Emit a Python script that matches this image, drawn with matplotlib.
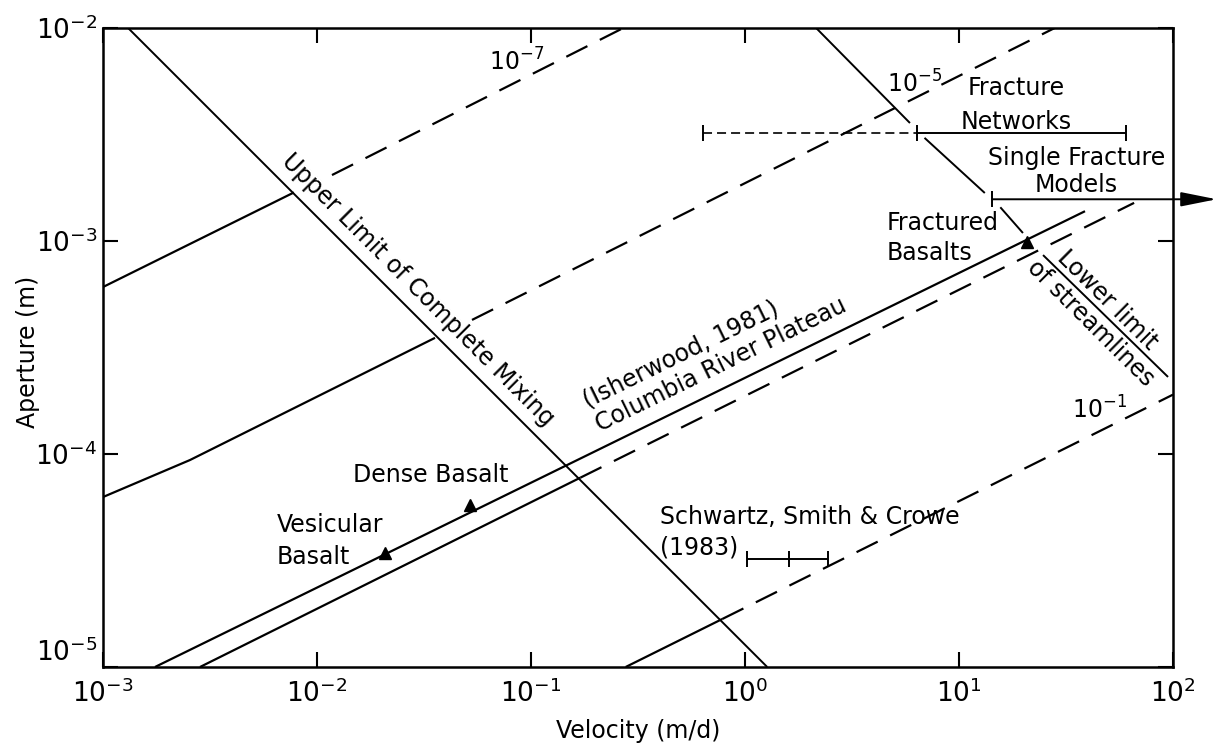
import numpy as np
import matplotlib
matplotlib.use('Agg')
import matplotlib.pyplot as plt
from matplotlib.ticker import NullLocator, FixedLocator

plt.rcParams['font.family'] = ['DejaVu Sans']
plt.rcParams['mathtext.fontset'] = 'dejavusans'
plt.rcParams['lines.scale_dashes'] = False

# ---------------- data ----------------
x_ticks = [1e-3, 1e-2, 1e-1, 1e0, 1e1, 1e2]
x_tick_labels = [r'$10^{-3}$', r'$10^{-2}$', r'$10^{-1}$', r'$10^{0}$', r'$10^{1}$', r'$10^{2}$']
y_ticks = [1e-5, 1e-4, 1e-3, 1e-2]
y_tick_labels = [r'$10^{-5}$', r'$10^{-4}$', r'$10^{-3}$', r'$10^{-2}$']

# Upper limit of complete mixing
upper_limit_x = [1.31e-3, 1.27]
upper_limit_y = [1e-2, 1e-5]

# Lower limit of streamlines (broken at the bars / basalt point)
lower_limit_x = [[2.15, 5.9], [6.9, 13.2], [15.6, 19.9], [24.7, 94.8]]
lower_limit_y = [[1.0e-2, 3.58e-3], [3.05e-3, 1.68e-3], [1.44e-3, 1.09e-3], [8.59e-4, 2.30e-4]]

# 10^-7 curve
c7_solid_x = [1e-3, 7.8e-3]
c7_solid_y = [6.08e-4, 1.69e-3]
c7_dash_x = [1.175e-2, 0.27]
c7_dash_y = [2.04e-3, 1e-2]

# 10^-5 curve
c5_solid_x = [1e-3, 2.55e-3, 3.56e-2]
c5_solid_y = [6.28e-5, 9.37e-5, 3.51e-4]
c5_dash_x = [5.30e-2, 28.0]
c5_dash_y = [4.26e-4, 1e-2]

# Columbia River Plateau (Isherwood, 1981)
crp_x = [1.75e-3, 38.8]
crp_y = [1e-5, 1.38e-3]

# 10^-3 curve
c3_solid_x = [2.84e-3, 0.170]
c3_solid_y = [1e-5, 7.74e-5]
c3_dash_x = [0.170, 65.8]
c3_dash_y = [7.74e-5, 1.51e-3]

# 10^-1 curve
c1_solid_x = [0.277, 0.783]
c1_solid_y = [1e-5, 1.68e-5]
c1_dash_x = [0.783, 100.0]
c1_dash_y = [1.68e-5, 1.9e-4]

# basalt points
basalt_vel = [0.0208, 0.0519, 20.8]
basalt_ap = [3.43e-5, 5.77e-5, 9.9e-4]

# range bars
fn_y = 3.21e-3
fn_dash_x = [0.637, 6.37]
fn_solid_x = [6.37, 60.3]
sf_y = 1.57e-3
sf_x = [14.3, 160.0]
scw_y = 3.21e-5
scw_x = [1.02, 1.61, 2.44]

# ---------------- figure ----------------
W, H = 1218, 751
fig = plt.figure(figsize=(W / 100, H / 100), dpi=100)
ax = fig.add_axes([103 / W, 1 - 667 / H, 1070 / W, 639 / H])
ax.set_xscale('log')
ax.set_yscale('log')
ax.set_xlim(1e-3, 1e2)
ax.set_ylim(1e-5, 1e-2)

FS = 17
LW = 1.6
LDASH = (17, 10)

ax.xaxis.set_major_locator(FixedLocator(x_ticks))
ax.yaxis.set_major_locator(FixedLocator(y_ticks))
ax.xaxis.set_minor_locator(NullLocator())
ax.yaxis.set_minor_locator(NullLocator())
ax.set_xticklabels(x_tick_labels)
ax.set_yticklabels(y_tick_labels)
ax.tick_params(which='major', direction='in', length=11, width=1.5,
               top=True, right=True, labelsize=19)
ax.tick_params(axis='x', pad=9)
ax.tick_params(axis='y', pad=4)
ax.get_yticklabels()[0].set_verticalalignment('bottom')
for s in ax.spines.values():
    s.set_linewidth(1.8)

k = dict(color='black', solid_capstyle='butt', dash_capstyle='butt')

ax.plot(upper_limit_x, upper_limit_y, lw=1.4, **k)
for xs, ys in zip(lower_limit_x, lower_limit_y):
    ax.plot(xs, ys, lw=1.4, **k)

ax.plot(c7_solid_x, c7_solid_y, lw=LW, **k)
ax.plot(c7_dash_x, c7_dash_y, lw=LW, dashes=LDASH, **k)
ax.plot(c5_solid_x, c5_solid_y, lw=LW, **k)
ax.plot(c5_dash_x, c5_dash_y, lw=LW, dashes=LDASH, **k)
ax.plot(crp_x, crp_y, lw=LW, **k)
ax.plot(c3_solid_x, c3_solid_y, lw=LW, **k)
ax.plot(c3_dash_x, c3_dash_y, lw=LW, dashes=LDASH, **k)
ax.plot(c1_solid_x, c1_solid_y, lw=LW, **k)
ax.plot(c1_dash_x, c1_dash_y, lw=LW, dashes=LDASH, **k)

ax.plot(basalt_vel, basalt_ap, ls='none', marker='^', ms=8, color='black')

# range bars
ax.plot(fn_dash_x, [fn_y] * 2, lw=1.2, dashes=(6.5, 3.6), **k)
ax.plot(fn_solid_x, [fn_y] * 2, lw=1.4, **k)
ax.plot([fn_dash_x[0], fn_solid_x[0], fn_solid_x[1]], [fn_y] * 3, ls='none',
        marker='|', ms=11, mew=1.4, color='black')
ax.plot([sf_x[0]], [sf_y], ls='none', marker='|', ms=11, mew=1.4, color='black')
ann = ax.annotate('', xy=(sf_x[1], sf_y), xytext=(sf_x[0], sf_y),
                  arrowprops=dict(arrowstyle='-|>,head_length=1.1,head_width=0.22',
                                  mutation_scale=20, lw=1.4, color='black',
                                  shrinkA=0, shrinkB=0),
                  annotation_clip=False)
ann.arrow_patch.set_clip_on(False)
ax.plot([scw_x[0], scw_x[-1]], [scw_y] * 2, lw=1.4, **k)
ax.plot(scw_x, [scw_y] * 3, ls='none', marker='|', ms=11, mew=1.4, color='black')


def screen_angle(xs, ys):
    p = ax.transData.transform(np.column_stack([xs, ys]))
    return np.degrees(np.arctan2(p[-1, 1] - p[0, 1], p[-1, 0] - p[0, 0]))


a_ul = screen_angle(upper_limit_x, upper_limit_y)
a_ll = screen_angle([lower_limit_x[0][0], lower_limit_x[-1][-1]],
                    [lower_limit_y[0][0], lower_limit_y[-1][-1]])
a_crp = screen_angle(crp_x, crp_y)

rt = dict(rotation_mode='anchor', fontsize=FS)
ax.text(0.02965, 5.89e-4, 'Upper Limit of Complete Mixing', rotation=a_ul,
        ha='center', va='center', **rt)
ax.text(0.1845, 1.644e-4, '(Isherwood, 1981)', rotation=a_crp,
        ha='left', va='baseline', **rt)
ax.text(0.210, 1.268e-4, 'Columbia River Plateau', rotation=a_crp,
        ha='left', va='baseline', **rt)
ax.text(49.2, 5.28e-4, 'Lower limit', rotation=a_ll, ha='center', va='center', **rt)
ax.text(41.4, 4.12e-4, 'of streamlines', rotation=a_ll, ha='center', va='center', **rt)

ax.text(0.0861, 6.92e-3, r'$10^{-7}$', ha='center', va='center', fontsize=FS)
ax.text(6.22, 5.46e-3, r'$10^{-5}$', ha='center', va='center', fontsize=FS)
ax.text(45.6, 1.61e-4, r'$10^{-1}$', ha='center', va='center', fontsize=FS)

ax.text(18.5, 5.23e-3, 'Fracture', ha='center', va='center', fontsize=FS)
ax.text(18.5, 3.62e-3, 'Networks', ha='center', va='center', fontsize=FS)
ax.text(35.6, 2.45e-3, 'Single Fracture', ha='center', va='center', fontsize=FS)
ax.text(35.2, 1.83e-3, 'Models', ha='center', va='center', fontsize=FS)
ax.text(4.61, 1.22e-3, 'Fractured', ha='left', va='center', fontsize=FS)
ax.text(4.61, 8.79e-4, 'Basalts', ha='left', va='center', fontsize=FS)
ax.text(0.01473, 7.96e-5, 'Dense Basalt', ha='left', va='center', fontsize=FS)
ax.text(6.50e-3, 4.65e-5, 'Vesicular', ha='left', va='center', fontsize=FS)
ax.text(6.50e-3, 3.28e-5, 'Basalt', ha='left', va='center', fontsize=FS)
ax.text(0.401, 5.06e-5, 'Schwartz, Smith & Crowe', ha='left', va='center', fontsize=FS)
ax.text(0.401, 3.62e-5, '(1983)', ha='left', va='center', fontsize=FS)

fig.text(638 / W, 1 - 731 / H, 'Velocity (m/d)', ha='center', va='center', fontsize=FS)
fig.text(28 / W, 1 - 352 / H, 'Aperture (m)', rotation=90, ha='center', va='center',
         fontsize=FS)

fig.savefig('out.png', dpi=100)
